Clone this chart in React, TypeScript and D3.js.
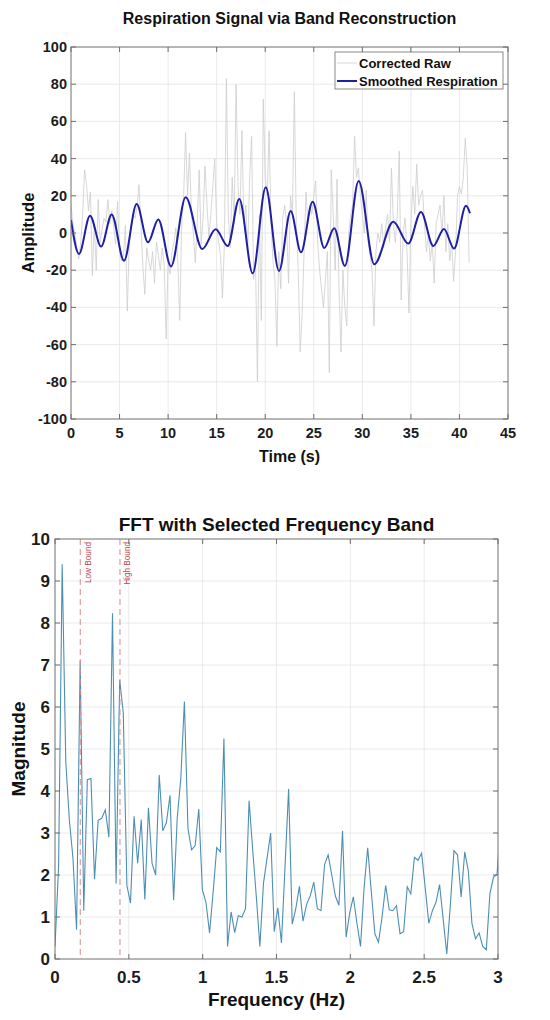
import * as d3 from "d3";
import { useEffect, useRef } from "react";

const FONT = "'Liberation Sans', Arial, Helvetica, sans-serif";

// top panel: smoothed respiration, turning points
const smoothTimes = [
  0, 0.82, 1.96, 3.1, 4.19, 5.46, 6.76, 7.93, 8.99, 10.3, 11.81, 13.52, 14.9,
  16.14, 17.33, 18.71, 20.05, 21.42, 22.62, 23.68, 24.88, 26.08, 27.11, 28.2,
  29.62, 31.23, 33.19, 34.73, 36.04, 37.31, 38.41, 39.44, 40.68, 41.09,
];
const smoothValues = [
  7, -11.3, 9.3, -7.3, 10, -14.9, 15.6, -5, 7.3, -18, 19.2, -8.6, 2, -7, 18.3,
  -21.7, 24.6, -20.4, 11.8, -10.4, 16.8, -8, 2.5, -17.7, 28, -16.8, 6.1, -5.7,
  11.3, -7, 2.2, -8.4, 14.7, 10.6,
];

// corrected raw signal, one value every 0.2 s from t = 0 to 41 s
const rawStep = 0.2;
const rawValues = [
  15, 5, 0, -8, -14, -5, 10, 34, 26, 12,
  22, -23, 5, -20, 18, -5, 2, 8, 6, 18,
  5, 12, 3, -6, 17, -10, -15, -12, 4, -42,
  -5, 3, 10, 8, 14, 26, 4, -18, -33, -8,
  -15, -20, -10, -27, -5, -12, -20, -8, -18, -57,
  -15, -22, -10, -5, 3, -15, -47, 5, 20, 54,
  20, 43, 10, 0, -16, 5, 34, -6, 8, 36,
  15, -2, 10, 25, 40, 5, -5, -12, -35, -5,
  83, 10, -8, 30, 5, 80, 25, 10, 55, 5,
  15, -10, 30, 52, -25, -15, -80, 10, -47, 72,
  30, 20, 55, 5, -15, -25, -61, -10, -30, 8,
  15, 5, -27, 20, 10, 76, 5, -20, -64, -44,
  -10, 22, 5, 15, 10, 20, 28, -5, -20, -30,
  -40, -25, -10, -75, 34, 10, -20, 29, -30, -64,
  -20, -40, -50, 0, 10, 15, 52, 30, 35, 20,
  10, 0, 23, -5, -12, -20, -50, -10, 0, -5,
  5, -8, 3, 10, -5, 35, 5, -5, 10, 44,
  -36, 0, 8, -10, -43, 5, 25, 10, 37, 15,
  20, 23, 5, -10, 0, -15, -5, -27, 5, 10,
  15, 0, 20, -10, 5, -15, -5, -26, -10, 20,
  25, 21, 30, 51, 35, -16,
];

const timeTicks = [0, 5, 10, 15, 20, 25, 30, 35, 40, 45];
const ampTicks = [-100, -80, -60, -40, -20, 0, 20, 40, 60, 80, 100];

// bottom panel: FFT magnitude per bin
const fftBinWidth = 0.02434;
const fftMagnitudes = [
  0.3, 2.2, 9.4, 4.7, 3.3, 2.4, 0.7, 7.1, 1.15, 4.27,
  4.3, 1.9, 3.3, 3.35, 3.55, 2.9, 8.23, 1.8, 6.65, 5.85,
  1.75, 1.33, 3.4, 2.28, 3.32, 1.42, 3.6, 2.28, 2.0, 4.38,
  3.05, 3.25, 3.9, 1.4, 3.35, 4.3, 6.13, 3.1, 2.6, 2.7,
  3.57, 1.65, 1.35, 0.62, 1.6, 2.65, 2.55, 5.25, 0.3, 1.12,
  0.63, 1.03, 1.0, 1.2, 3.77, 2.6, 1.5, 0.3, 1.8, 2.4,
  3.0, 0.65, 1.22, 0.38, 2.2, 4.05, 0.83, 1.2, 1.73, 0.9,
  1.3, 1.5, 1.83, 1.2, 1.15, 2.25, 2.48, 2.0, 1.5, 1.28,
  3.05, 0.52, 1.1, 1.48, 0.85, 0.3, 1.7, 2.65, 1.6, 0.6,
  0.4, 1.0, 1.75, 1.17, 1.15, 1.27, 0.6, 0.65, 1.72, 1.55,
  2.42, 2.35, 2.52, 1.7, 0.85, 1.15, 1.35, 1.77, 0.95, 0.12,
  1.3, 2.58, 2.48, 1.48, 2.55, 2.1, 0.85, 0.48, 0.62, 0.3,
  0.22, 1.55, 1.95, 2.02, 3.3,
];
const freqTicks = [0, 0.5, 1, 1.5, 2, 2.5, 3];
const magTicks = [0, 1, 2, 3, 4, 5, 6, 7, 8, 9, 10];
const bandNames = ["Low Bound", "High Bound"];
const bandFreqs = [0.171, 0.44];

type Sel = d3.Selection<SVGSVGElement, unknown, null, undefined>;

function panel(svg: Sel, id: string, box: number[], xDom: number[], yDom: number[], xTicks: number[], yTicks: number[]) {
  const [left, top, right, bottom] = box;
  const x = d3.scaleLinear().domain(xDom).range([left, right]);
  const y = d3.scaleLinear().domain(yDom).range([bottom, top]);
  const g = svg.append("g");

  g.append("rect").attr("x", left).attr("y", top).attr("width", right - left).attr("height", bottom - top).attr("fill", "#fff");

  // grid
  g.append("g").selectAll("line").data(xTicks.slice(1, -1)).join("line")
    .attr("x1", (d) => x(d)).attr("x2", (d) => x(d)).attr("y1", top).attr("y2", bottom)
    .attr("stroke", "#e4e4e4").attr("stroke-width", 0.8);
  g.append("g").selectAll("line").data(yTicks.slice(1, -1)).join("line")
    .attr("y1", (d) => y(d)).attr("y2", (d) => y(d)).attr("x1", left).attr("x2", right)
    .attr("stroke", "#e4e4e4").attr("stroke-width", 0.8);

  svg.append("clipPath").attr("id", id).append("rect")
    .attr("x", left).attr("y", top).attr("width", right - left).attr("height", bottom - top);
  const plot = svg.append("g").attr("clip-path", `url(#${id})`);

  return { x, y, plot, left, top, right, bottom };
}

function frame(svg: Sel, p: ReturnType<typeof panel>, xTicks: number[], yTicks: number[], tickFont: number, xLabelY: number, yLabelX: number) {
  const { x, y, left, top, right, bottom } = p;
  const g = svg.append("g");
  const tk = 5;
  const col = "#6e6e6e";

  g.append("rect").attr("x", left).attr("y", top).attr("width", right - left).attr("height", bottom - top)
    .attr("fill", "none").attr("stroke", col).attr("stroke-width", 1);

  g.append("g").selectAll("path").data(xTicks).join("path")
    .attr("d", (d) => `M${x(d)},${bottom}v${-tk}M${x(d)},${top}v${tk}`)
    .attr("stroke", col).attr("stroke-width", 1);
  g.append("g").selectAll("path").data(yTicks).join("path")
    .attr("d", (d) => `M${left},${y(d)}h${tk}M${right},${y(d)}h${-tk}`)
    .attr("stroke", col).attr("stroke-width", 1);

  g.append("g").selectAll("text").data(xTicks).join("text")
    .attr("x", (d) => x(d)).attr("y", xLabelY)
    .attr("text-anchor", "middle")
    .attr("font-family", FONT).attr("font-weight", "bold").attr("font-size", tickFont).attr("fill", "#1c1c1c")
    .text((d) => String(d));
  g.append("g").selectAll("text").data(yTicks).join("text")
    .attr("x", yLabelX).attr("y", (d) => y(d)).attr("dy", "0.35em")
    .attr("text-anchor", "end")
    .attr("font-family", FONT).attr("font-weight", "bold").attr("font-size", tickFont).attr("fill", "#1c1c1c")
    .text((d) => String(d));
}

function label(svg: Sel, txt: string, x: number, y: number, size: number, rotate = false) {
  svg.append("text")
    .attr("transform", rotate ? `translate(${x},${y}) rotate(-90)` : `translate(${x},${y})`)
    .attr("text-anchor", "middle")
    .attr("font-family", FONT).attr("font-weight", "bold").attr("font-size", size).attr("fill", "#111")
    .text(txt);
}

export default function App() {
  const ref = useRef<SVGSVGElement | null>(null);

  useEffect(() => {
    if (!ref.current) return;
    const svg = d3.select(ref.current);
    svg.selectAll("*").remove();

    // ---- top: respiration signal
    const top = panel(svg, "clipTop", [71, 47, 508, 419], [0, 45], [-100, 100], timeTicks, ampTicks);

    const raw = rawValues.map((v, i) => [i * rawStep, v] as [number, number]);
    top.plot.append("path").datum(raw)
      .attr("d", d3.line().x((d) => top.x(d[0])).y((d) => top.y(d[1])))
      .attr("fill", "none").attr("stroke", "#cdcdcd").attr("stroke-width", 0.8);

    const smooth = smoothTimes.map((t, i) => [t, smoothValues[i]] as [number, number]);
    top.plot.append("path").datum(smooth)
      .attr("d", d3.line().curve(d3.curveMonotoneX).x((d) => top.x(d[0])).y((d) => top.y(d[1])))
      .attr("fill", "none").attr("stroke", "#1f1fa3").attr("stroke-width", 2);

    frame(svg, top, timeTicks, ampTicks, 14.5, 438, 67);
    label(svg, "Respiration Signal via Band Reconstruction", 289.5, 24, 16);
    label(svg, "Time (s)", 289.5, 462, 16);
    label(svg, "Amplitude", 34, 233, 16.5, true);

    // legend
    const lg = svg.append("g");
    lg.append("rect").attr("x", 335).attr("y", 52).attr("width", 168).attr("height", 37)
      .attr("fill", "#fff").attr("stroke", "#6e6e6e").attr("stroke-width", 0.8);
    const legendItems = [
      { name: "Corrected Raw", color: "#cdcdcd", w: 0.8 },
      { name: "Smoothed Respiration", color: "#1f1fa3", w: 2 },
    ];
    legendItems.forEach((it, i) => {
      const cy = 63 + i * 18;
      lg.append("line").attr("x1", 337).attr("x2", 357).attr("y1", cy).attr("y2", cy)
        .attr("stroke", it.color).attr("stroke-width", it.w);
      lg.append("text").attr("x", 359).attr("y", cy).attr("dy", "0.35em")
        .attr("font-family", FONT).attr("font-weight", "bold").attr("font-size", 13).attr("fill", "#111")
        .text(it.name);
    });

    // ---- bottom: FFT
    const bot = panel(svg, "clipBot", [55, 539, 498, 959], [0, 3], [0, 10], freqTicks, magTicks);

    const fft = fftMagnitudes.map((m, i) => [i * fftBinWidth, m] as [number, number]);
    bot.plot.append("path").datum(fft)
      .attr("d", d3.line().x((d) => bot.x(d[0])).y((d) => bot.y(d[1])))
      .attr("fill", "none").attr("stroke", "#4d8fb3").attr("stroke-width", 1.1);

    bandFreqs.forEach((f, i) => {
      const xx = bot.x(f);
      bot.plot.append("line").attr("x1", xx).attr("x2", xx).attr("y1", bot.top).attr("y2", bot.bottom)
        .attr("stroke", "#d98a8f").attr("stroke-width", 1).attr("stroke-dasharray", "6,4");
      svg.append("text")
        .attr("transform", `translate(${xx + 10.5},${bot.top + 3}) rotate(-90)`)
        .attr("text-anchor", "end")
        .attr("font-family", FONT).attr("font-size", 8.2).attr("fill", "#c0454f")
        .text(bandNames[i]);
    });

    frame(svg, bot, freqTicks, magTicks, 17, 983, 50);
    label(svg, "FFT with Selected Frequency Band", 276.5, 531, 19);
    label(svg, "Frequency (Hz)", 276.5, 1006, 19);
    label(svg, "Magnitude", 25, 749, 19, true);
  }, []);

  return (
    <svg
      ref={ref}
      width={550}
      height={1020}
      style={{ position: "absolute", left: 0, top: 0, background: "#fff" }}
    ></svg>
  );
}
